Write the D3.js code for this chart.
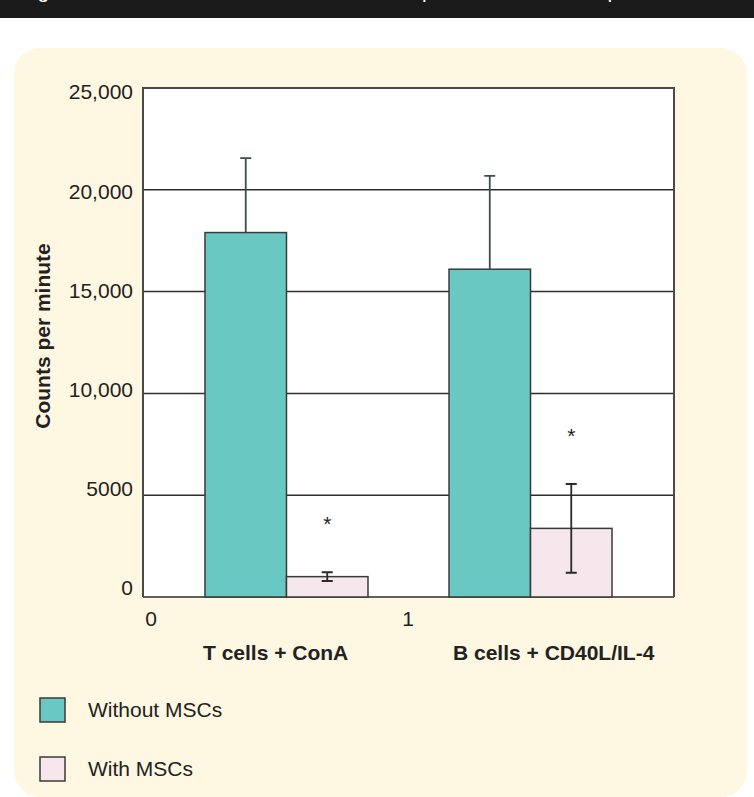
<!DOCTYPE html>
<html>
<head>
<meta charset="utf-8">
<script src="https://cdn.jsdelivr.net/npm/d3@7"></script>
<style>
  html, body { margin: 0; padding: 0; background: #fff; }
  svg { display: block; font-family: "Liberation Sans", Arial, sans-serif; }
</style>
</head>
<body>
<div id="chart"></div>
<script>
// chart data
const categories = ["T cells + ConA", "B cells + CD40L/IL-4"];
const seriesNames = ["Without MSCs", "With MSCs"];
const withoutMSCs = [17900, 16100];
const withoutErr = [3660, 4580];
const withMSCs = [1000, 3370];
const withErr = [215, 2180];
const starValues = [3830, 8150];   // where the "*" sits
const yTicks = [0, 5000, 10000, 15000, 20000, 25000];
const xTicks = [0, 1];
const titleText = "Figure 1. Human MSCs inhibit T and B cell proliferation and responses";

const W = 754, H = 797;
const colors = { "Without MSCs": "#6ac8c2", "With MSCs": "#f6e7ed" };

const svg = d3.select("#chart").append("svg")
  .attr("width", W).attr("height", H);

// black title strip, text clipped so only descenders show
svg.append("rect").attr("x", 0).attr("y", 0).attr("width", W).attr("height", 18).attr("fill", "#1b1b1b");
svg.append("clipPath").attr("id", "strip")
  .append("rect").attr("x", 0).attr("y", 0).attr("width", W).attr("height", 18);
svg.append("text")
  .attr("clip-path", "url(#strip)")
  .attr("x", 20).attr("y", -2)
  .attr("font-size", 21).attr("fill", "#fff")
  .text(titleText);

// cream panel
svg.append("rect")
  .attr("x", 14).attr("y", 48).attr("width", 733).attr("height", 749)
  .attr("rx", 26).attr("fill", "#fef7e1");

const plot = { left: 143, right: 674, top: 88, bottom: 597 };

const y = d3.scaleLinear().domain([0, 25000]).range([plot.bottom, plot.top]);
// tick labels drift slightly from the grid in the original
const yLab = d3.scaleLinear().domain([0, 25000]).range([plot.bottom - 9, plot.top + 4]);

const x0 = d3.scaleBand().domain(categories)
  .range([plot.left, plot.right]).paddingInner(0.332).paddingOuter(0.254);
const x1 = d3.scaleBand().domain(seriesNames).range([0, x0.bandwidth()]);
const xNum = d3.scaleLinear().domain([0, 1]).range([151, 408]);

// plot background
svg.append("rect")
  .attr("x", plot.left).attr("y", plot.top)
  .attr("width", plot.right - plot.left).attr("height", plot.bottom - plot.top)
  .attr("fill", "#fff");

// gridlines
svg.append("g").selectAll("line")
  .data(yTicks.filter(d => d < 25000))
  .join("line")
  .attr("x1", plot.left).attr("x2", plot.right)
  .attr("y1", d => y(d)).attr("y2", d => y(d))
  .attr("stroke", "#2e2e2e").attr("stroke-width", 1.5);

// frame: left, top, right
svg.append("path")
  .attr("d", `M${plot.left},${plot.bottom}V${plot.top}H${plot.right}V${plot.bottom}`)
  .attr("fill", "none").attr("stroke", "#4a4a4a").attr("stroke-width", 2);

// y tick labels
svg.append("g").selectAll("text")
  .data(yTicks)
  .join("text")
  .attr("x", 133).attr("y", d => yLab(d))
  .attr("dy", "0.35em")
  .attr("text-anchor", "end")
  .attr("font-size", 21).attr("fill", "#222")
  .text(d => d === 0 ? "0" : d < 10000 ? d3.format("d")(d) : d3.format(",")(d));

// x numeric labels
svg.append("g").selectAll("text")
  .data(xTicks)
  .join("text")
  .attr("x", d => xNum(d)).attr("y", 626)
  .attr("text-anchor", "middle")
  .attr("font-size", 21).attr("fill", "#222")
  .text(d => d);

// category labels
svg.append("g").selectAll("text")
  .data(categories)
  .join("text")
  .attr("x", (d, i) => x0(d) + (i === 0 ? -2 : 4)).attr("y", 660)
  .attr("font-size", 21).attr("font-weight", "bold").attr("fill", "#222")
  .text(d => d);

// y axis title
svg.append("text")
  .attr("transform", "translate(50,336) rotate(-90)")
  .attr("text-anchor", "middle")
  .attr("font-size", 21).attr("font-weight", "bold").attr("fill", "#222")
  .text("Counts per minute");

// bars
const rows = categories.map((c, i) => ({
  cat: c,
  vals: [
    { s: seriesNames[0], v: withoutMSCs[i], e: withoutErr[i], full: false },
    { s: seriesNames[1], v: withMSCs[i], e: withErr[i], full: true }
  ]
}));

const groups = svg.append("g").selectAll("g")
  .data(rows)
  .join("g")
  .attr("transform", d => `translate(${x0(d.cat)},0)`);

groups.selectAll("rect")
  .data(d => d.vals)
  .join("rect")
  .attr("x", d => x1(d.s)).attr("y", d => y(d.v))
  .attr("width", x1.bandwidth()).attr("height", d => y(0) - y(d.v))
  .attr("fill", d => colors[d.s])
  .attr("stroke", "#3a3a3a").attr("stroke-width", 1.5);

// error bars
const cap = 5.5;
groups.selectAll("path.err")
  .data(d => d.vals)
  .join("path")
  .attr("class", "err")
  .attr("d", d => {
    const cx = x1(d.s) + x1.bandwidth() / 2;
    const top = y(d.v + d.e);
    const bot = d.full ? y(d.v - d.e) : y(d.v);
    let p = `M${cx},${bot}V${top}M${cx - cap},${top}H${cx + cap}`;
    if (d.full) p += `M${cx - cap},${bot}H${cx + cap}`;
    return p;
  })
  .attr("fill", "none")
  .attr("stroke", d => d.full ? "#2a2a2a" : "#3f4c4c")
  .attr("stroke-width", 1.8);

// significance stars
groups.append("text")
  .attr("x", d => x0.bandwidth() * 0.75)
  .attr("y", (d, i) => y(starValues[i]) + 12)
  .attr("text-anchor", "middle")
  .attr("font-size", 21).attr("fill", "#222")
  .text("*");

// legend
const legend = svg.append("g").selectAll("g")
  .data(seriesNames)
  .join("g")
  .attr("transform", (d, i) => `translate(40,${698 + i * 59})`);

legend.append("rect")
  .attr("width", 25).attr("height", 24)
  .attr("fill", d => colors[d])
  .attr("stroke", "#3a3a3a").attr("stroke-width", 1.5);

legend.append("text")
  .attr("x", 48).attr("y", 12).attr("dy", "0.35em")
  .attr("font-size", 21).attr("fill", "#222")
  .text(d => d);
</script>
</body>
</html>
